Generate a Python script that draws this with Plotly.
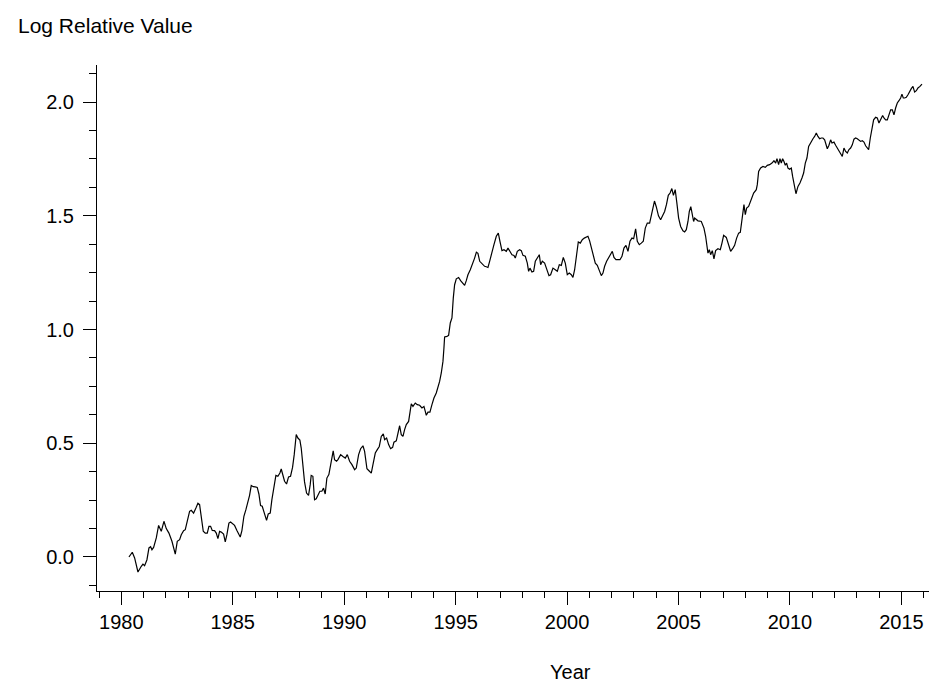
import plotly.graph_objects as go

dates = [
    1980.344, 1980.493, 1980.598, 1980.747, 1980.897, 1980.972, 1981.046, 1981.151, 1981.241, 1981.315, 1981.375, 1981.450, 1981.570, 1981.674, 1981.794, 1981.913,
    1982.018, 1982.137, 1982.272, 1982.422, 1982.511, 1982.616, 1982.691, 1982.795, 1982.870, 1982.960,
    1983.064, 1983.139, 1983.244, 1983.348, 1983.438, 1983.513, 1983.587, 1983.677, 1983.767, 1983.857, 1983.931,
    1984.006, 1984.081, 1984.185, 1984.260, 1984.335, 1984.410, 1984.484, 1984.589, 1984.664, 1984.738, 1984.828, 1984.903,
    1985.007, 1985.082, 1985.187, 1985.262, 1985.336, 1985.411, 1985.501, 1985.590, 1985.680, 1985.755, 1985.830, 1985.919,
    1986.009, 1986.099, 1986.173, 1986.248, 1986.323, 1986.428, 1986.517, 1986.592, 1986.682, 1986.756, 1986.846, 1986.936,
    1987.025, 1987.115, 1987.175, 1987.250, 1987.324, 1987.414, 1987.504, 1987.593, 1987.683, 1987.758, 1987.848, 1987.922,
    1988.012, 1988.072, 1988.147, 1988.221, 1988.311, 1988.401, 1988.475, 1988.520, 1988.595, 1988.670, 1988.744, 1988.819, 1988.909, 1988.999,
    1989.073, 1989.148, 1989.223, 1989.312, 1989.417, 1989.507, 1989.567, 1989.656, 1989.720, 1989.840, 1989.944,
    1990.049, 1990.139, 1990.243, 1990.348, 1990.468, 1990.542, 1990.647, 1990.737, 1990.842, 1990.916,
    1991.021, 1991.111, 1991.215, 1991.290, 1991.395, 1991.485, 1991.574, 1991.664, 1991.754, 1991.814, 1991.903, 1991.993,
    1992.083, 1992.173, 1992.232, 1992.337, 1992.412, 1992.487, 1992.561, 1992.636, 1992.711, 1992.786, 1992.890, 1992.950,
    1993.010, 1993.085, 1993.189, 1993.279, 1993.384, 1993.488, 1993.578, 1993.638, 1993.683, 1993.758, 1993.847, 1993.937,
    1994.027, 1994.131, 1994.206, 1994.281, 1994.356, 1994.431, 1994.475, 1994.505, 1994.610, 1994.685, 1994.760, 1994.834, 1994.894, 1994.954,
    1995.029, 1995.133, 1995.223, 1995.313, 1995.403, 1995.477, 1995.552, 1995.657, 1995.776, 1995.851, 1995.930,
    1996.000, 1996.080, 1996.150, 1996.225, 1996.300, 1996.375, 1996.450, 1996.525, 1996.629, 1996.719, 1996.824, 1996.914, 1996.988,
    1997.078, 1997.168, 1997.272, 1997.347, 1997.437, 1997.527, 1997.616, 1997.676, 1997.766, 1997.871, 1997.945,
    1998.020, 1998.125, 1998.215, 1998.274, 1998.334, 1998.424, 1998.499, 1998.574, 1998.663, 1998.753, 1998.813, 1998.888, 1998.992,
    1999.082, 1999.187, 1999.261, 1999.366, 1999.471, 1999.561, 1999.650, 1999.740, 1999.830, 1999.919,
    2000.009, 2000.099, 2000.189, 2000.263, 2000.338, 2000.428, 2000.503, 2000.592, 2000.682, 2000.772, 2000.847, 2000.936,
    2001.011, 2001.086, 2001.176, 2001.265, 2001.355, 2001.445, 2001.535, 2001.609, 2001.684, 2001.774, 2001.864, 2001.953,
    2002.028, 2002.103, 2002.193, 2002.282, 2002.372, 2002.462, 2002.551, 2002.641, 2002.731, 2002.821, 2002.910, 2002.985,
    2003.075, 2003.150, 2003.239, 2003.329, 2003.419, 2003.508, 2003.598, 2003.703, 2003.778, 2003.837, 2003.920,
    2004.000, 2004.100, 2004.196, 2004.301, 2004.376, 2004.460, 2004.540, 2004.620, 2004.700, 2004.770, 2004.850, 2004.920,
    2005.004, 2005.094, 2005.198, 2005.273, 2005.348, 2005.423, 2005.483, 2005.550, 2005.602, 2005.677, 2005.722, 2005.796, 2005.871, 2005.946,
    2006.021, 2006.140, 2006.215, 2006.320, 2006.380, 2006.440, 2006.514, 2006.589, 2006.664, 2006.769, 2006.873, 2006.948,
    2007.023, 2007.142, 2007.247, 2007.337, 2007.442, 2007.516, 2007.606, 2007.696, 2007.771, 2007.815, 2007.875, 2007.935,
    2007.995, 2008.055, 2008.144, 2008.219, 2008.294, 2008.369, 2008.488, 2008.533, 2008.593, 2008.683, 2008.787, 2008.892, 2008.982,
    2009.087, 2009.191, 2009.281, 2009.356, 2009.416, 2009.490, 2009.550, 2009.610, 2009.670, 2009.730, 2009.789, 2009.849, 2009.909, 2009.984,
    2010.059, 2010.118, 2010.193, 2010.268, 2010.358, 2010.447, 2010.537, 2010.612, 2010.687, 2010.761, 2010.836, 2010.926,
    2011.031, 2011.105, 2011.180, 2011.255, 2011.330, 2011.405, 2011.479, 2011.554, 2011.629, 2011.674, 2011.748, 2011.823, 2011.883, 2011.973,
    2012.048, 2012.122, 2012.197, 2012.272, 2012.347, 2012.421, 2012.496, 2012.571, 2012.646, 2012.720, 2012.795, 2012.870, 2012.945,
    2013.020, 2013.094, 2013.169, 2013.244, 2013.319, 2013.393, 2013.468, 2013.528, 2013.603, 2013.678, 2013.752, 2013.842, 2013.917, 2013.992,
    2014.066, 2014.156, 2014.216, 2014.291, 2014.365, 2014.440, 2014.515, 2014.590, 2014.665, 2014.739, 2014.814, 2014.889, 2014.964,
    2015.023, 2015.083, 2015.143, 2015.218, 2015.293, 2015.367, 2015.442, 2015.517, 2015.592, 2015.667, 2015.741, 2015.831, 2015.921,
]

# Log relative value at each date
log_value = [
    0.000, 0.021, -0.004, -0.066, -0.041, -0.031, -0.038, -0.012, 0.040, 0.045, 0.032, 0.042, 0.084, 0.139, 0.113, 0.157,
    0.125, 0.105, 0.069, 0.013, 0.069, 0.076, 0.098, 0.116, 0.120, 0.157,
    0.201, 0.205, 0.193, 0.215, 0.236, 0.230, 0.171, 0.113, 0.105, 0.105, 0.135,
    0.135, 0.117, 0.116, 0.105, 0.081, 0.113, 0.110, 0.101, 0.066, 0.098, 0.149, 0.154,
    0.145, 0.139, 0.116, 0.098, 0.088, 0.116, 0.179, 0.208, 0.240, 0.271, 0.314, 0.309,
    0.308, 0.306, 0.277, 0.226, 0.223, 0.189, 0.161, 0.189, 0.193, 0.252, 0.311, 0.359,
    0.355, 0.369, 0.387, 0.362, 0.333, 0.321, 0.352, 0.355, 0.394, 0.450, 0.538, 0.523,
    0.514, 0.479, 0.399, 0.330, 0.281, 0.271, 0.318, 0.359, 0.355, 0.252, 0.256, 0.274, 0.289, 0.289,
    0.303, 0.277, 0.347, 0.362, 0.428, 0.467, 0.428, 0.421, 0.428, 0.450, 0.442,
    0.435, 0.450, 0.421, 0.406, 0.384, 0.391, 0.450, 0.476, 0.489, 0.464,
    0.388, 0.379, 0.369, 0.406, 0.457, 0.472, 0.486, 0.530, 0.541, 0.516, 0.523, 0.494,
    0.476, 0.482, 0.505, 0.511, 0.538, 0.577, 0.538, 0.530, 0.560, 0.582, 0.596, 0.633,
    0.673, 0.662, 0.677, 0.670, 0.667, 0.655, 0.662, 0.640, 0.623, 0.637, 0.637, 0.670,
    0.699, 0.721, 0.743, 0.772, 0.809, 0.860, 0.919, 0.967, 0.970, 0.974, 1.029, 1.051, 1.138, 1.197,
    1.223, 1.229, 1.215, 1.204, 1.194, 1.215, 1.241, 1.263, 1.292, 1.314, 1.340,
    1.335, 1.300, 1.292, 1.285, 1.278, 1.276, 1.273, 1.300, 1.344, 1.373, 1.410, 1.424, 1.388,
    1.347, 1.351, 1.344, 1.358, 1.344, 1.329, 1.326, 1.314, 1.344, 1.351, 1.347,
    1.326, 1.322, 1.292, 1.256, 1.270, 1.253, 1.256, 1.300, 1.314, 1.329, 1.285, 1.300, 1.292,
    1.270, 1.237, 1.241, 1.270, 1.263, 1.256, 1.285, 1.282, 1.317, 1.292,
    1.241, 1.248, 1.241, 1.229, 1.263, 1.329, 1.385, 1.380, 1.395, 1.402, 1.405, 1.410,
    1.390, 1.358, 1.322, 1.292, 1.282, 1.263, 1.237, 1.248, 1.278, 1.300, 1.317, 1.332,
    1.344, 1.317, 1.307, 1.307, 1.307, 1.322, 1.358, 1.370, 1.344, 1.388, 1.402, 1.399,
    1.443, 1.388, 1.373, 1.380, 1.388, 1.446, 1.468, 1.468, 1.505, 1.534, 1.565,
    1.540, 1.500, 1.483, 1.505, 1.519, 1.550, 1.590, 1.600, 1.620, 1.590, 1.615, 1.560,
    1.490, 1.453, 1.434, 1.429, 1.439, 1.475, 1.519, 1.540, 1.512, 1.475, 1.490, 1.483, 1.478, 1.477,
    1.475, 1.446, 1.410, 1.336, 1.351, 1.329, 1.347, 1.311, 1.347, 1.355, 1.351, 1.380,
    1.414, 1.405, 1.366, 1.344, 1.358, 1.370, 1.402, 1.424, 1.427, 1.461, 1.505, 1.549,
    1.505, 1.534, 1.541, 1.563, 1.585, 1.600, 1.615, 1.637, 1.695, 1.710, 1.717, 1.713, 1.722,
    1.725, 1.732, 1.742, 1.732, 1.751, 1.725, 1.751, 1.732, 1.751, 1.739, 1.722, 1.732, 1.710, 1.705,
    1.710, 1.673, 1.637, 1.597, 1.629, 1.644, 1.666, 1.688, 1.732, 1.754, 1.805, 1.824,
    1.839, 1.849, 1.864, 1.849, 1.839, 1.842, 1.842, 1.834, 1.815, 1.795, 1.810, 1.834, 1.820, 1.824,
    1.810, 1.798, 1.786, 1.771, 1.761, 1.798, 1.783, 1.776, 1.791, 1.798, 1.812, 1.837, 1.842,
    1.839, 1.834, 1.827, 1.830, 1.824, 1.808, 1.798, 1.791, 1.842, 1.893, 1.922, 1.933, 1.930, 1.908,
    1.922, 1.941, 1.930, 1.922, 1.922, 1.944, 1.966, 1.966, 1.944, 1.974, 1.996, 2.006, 2.018,
    2.035, 2.018, 2.018, 2.021, 2.032, 2.047, 2.059, 2.069, 2.044, 2.050, 2.062, 2.069, 2.079,
]

x_tick_values = [1980, 1985, 1990, 1995, 2000, 2005, 2010, 2015]
x_tick_labels = ["1980", "1985", "1990", "1995", "2000", "2005", "2010", "2015"]
y_tick_values = [0.0, 0.5, 1.0, 1.5, 2.0]
y_tick_labels = ["0.0", "0.5", "1.0", "1.5", "2.0"]

n = min(len(dates), len(log_value))

FONT = "Liberation Sans, Arial, sans-serif"

fig = go.Figure()
fig.add_trace(go.Scatter(
    x=dates[:n], y=log_value[:n], mode="lines",
    line=dict(color="black", width=1.2),
    hoverinfo="skip", showlegend=False,
))

fig.update_layout(
    width=937, height=684,
    margin=dict(l=89, r=5, t=57, b=101),
    paper_bgcolor="white", plot_bgcolor="white",
    font=dict(family=FONT, size=20, color="black"),
    showlegend=False,
    xaxis=dict(
        range=[1978.91, 2016.73],
        tickmode="array", tickvals=x_tick_values, ticktext=x_tick_labels,
        ticks="outside", ticklen=13, tickwidth=1, tickcolor="black",
        showline=True, linecolor="black", linewidth=1,
        showgrid=False, zeroline=False,
        tickfont=dict(family=FONT, size=20, color="black"),
        minor=dict(tick0=1980, dtick=1, ticks="outside", ticklen=6,
                   tickwidth=1, tickcolor="black", showgrid=False),
    ),
    yaxis=dict(
        range=[-0.1495, 2.163],
        tickmode="array", tickvals=y_tick_values, ticktext=y_tick_labels,
        ticks="outside", ticklen=13, tickwidth=1, tickcolor="black",
        ticklabelstandoff=5,
        showline=True, linecolor="black", linewidth=1,
        showgrid=False, zeroline=False,
        tickfont=dict(family=FONT, size=20, color="black"),
        minor=dict(tick0=0, dtick=0.125, ticks="outside", ticklen=7,
                   tickwidth=1, tickcolor="black", showgrid=False),
    ),
    annotations=[
        dict(text="Log Relative Value", xref="paper", yref="paper",
             x=(8 - 89) / 843, y=(583 - 17) / 526,
             xanchor="left", yanchor="middle", showarrow=False,
             font=dict(family=FONT, size=21, color="black")),
        dict(text="Year", xref="paper", yref="paper",
             x=(562 - 89) / 843, y=(583 - 677) / 526,
             xanchor="center", yanchor="bottom", showarrow=False,
             font=dict(family=FONT, size=20, color="black")),
    ],
)

fig.write_html("out.html")
